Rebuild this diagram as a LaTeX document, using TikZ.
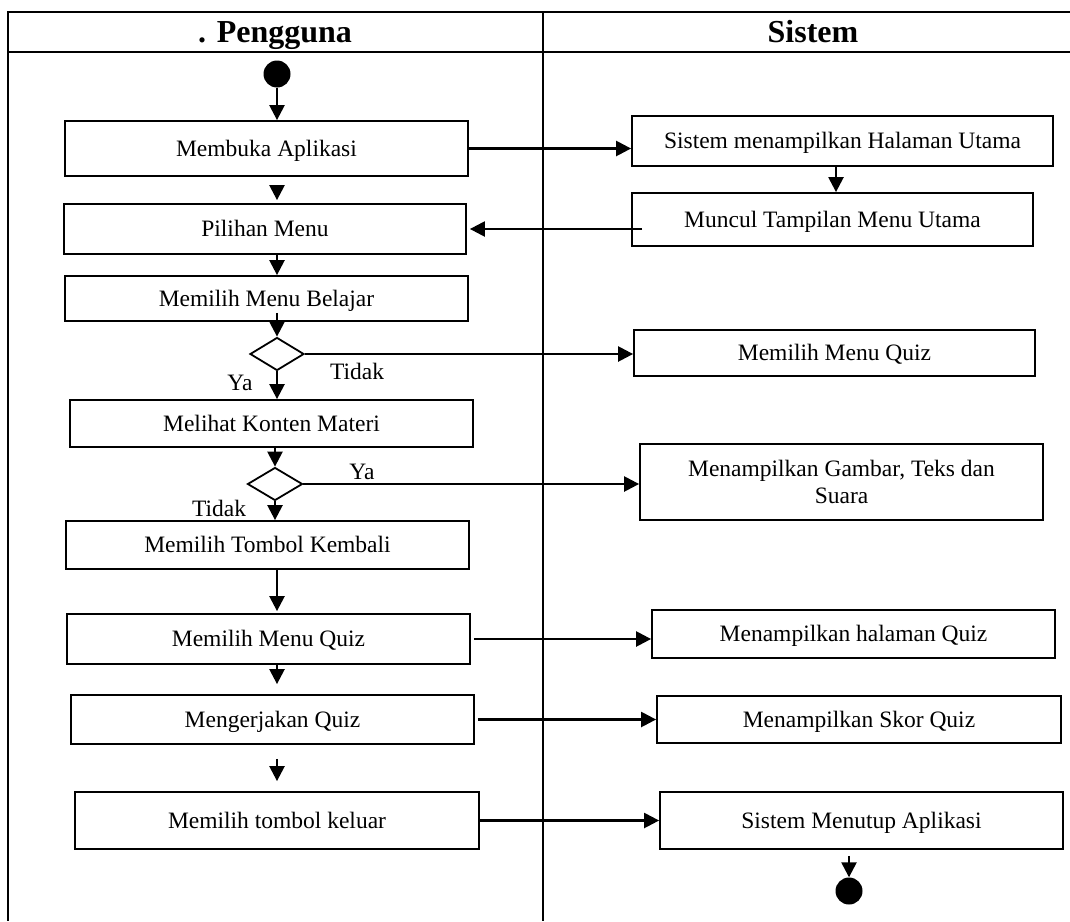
\documentclass[tikz,border=0pt]{standalone}
\usepackage{fontspec}
\setmainfont{Liberation Serif}
\usetikzlibrary{arrows.meta,shapes.geometric}
\begin{document}
\begin{tikzpicture}[x=1pt,y=-1pt,
  txt/.style={font=\fontsize{23.5pt}{27pt}\selectfont},
  act/.style={draw, line width=1.8pt, inner sep=0pt, align=center, txt, text height=18pt, text depth=2.5pt},
  act2/.style={draw, line width=1.8pt, inner sep=0pt, align=center, txt},
  dec/.style={draw, diamond, line width=1.8pt, inner sep=0pt},
  flow/.style={line width=2.4pt, -{Triangle[length=15pt,width=15pt]}},
  lane/.style={line width=2.6pt},
  lbl/.style={inner sep=0pt, txt},
  head/.style={inner sep=0pt, anchor=base, font=\fontsize{32pt}{36pt}\selectfont\bfseries},
  dot/.style={circle, fill=black, inner sep=0pt, minimum size=27pt}
]
\useasboundingbox (0,0) rectangle (1070,921);

% swimlane frame
\draw[lane] (1070,12) -- (8,12) -- (8,921);
\draw[lane] (8,52) -- (1070,52);
\draw[lane] (543,12) -- (543,921);
\node[head] (hUser) at (275,42) {. Pengguna};
\node[head] (hSys) at (813,42) {Sistem};

% arrow columns
\coordinate (ax) at (277,0);
\coordinate (bx) at (836,0);
\coordinate (cx) at (849,0);

% user lane
\node[dot] (start) at (277,74) {};
\node[act, minimum width=403pt, minimum height=55pt] (l1) at (266.5,148.5) {Membuka Aplikasi};
\node[act, minimum width=402pt, minimum height=50pt] (l2) at (265,229) {Pilihan Menu};
\node[act, minimum width=403pt, minimum height=45pt] (l3) at (266.5,298.5) {Memilih Menu Belajar};
\node[dec, minimum width=54pt, minimum height=33pt] (d1) at (277,354) {};
\node[act, minimum width=403pt, minimum height=47pt] (l4) at (271.5,423.5) {Melihat Konten Materi};
\node[dec, minimum width=55pt, minimum height=33pt] (d2) at (275,484) {};
\node[act, minimum width=403pt, minimum height=48pt] (l5) at (267.5,545) {Memilih Tombol Kembali};
\node[act, minimum width=403pt, minimum height=50pt] (l6) at (268.5,639) {Memilih Menu Quiz};
\node[act, minimum width=403pt, minimum height=49pt] (l7) at (272.5,719.5) {Mengerjakan Quiz};
\node[act, minimum width=404pt, minimum height=57pt] (l8) at (277,820.5) {Memilih tombol keluar};

% system lane
\node[act, minimum width=421pt, minimum height=50pt] (r1) at (842.5,141) {Sistem menampilkan Halaman Utama};
\node[act, minimum width=401pt, minimum height=53pt] (r2) at (832.5,219.5) {Muncul Tampilan Menu Utama};
\node[act, minimum width=401pt, minimum height=46pt] (r3) at (834.5,353) {Memilih Menu Quiz};
\node[act2, minimum width=403pt, minimum height=76pt] (r4) at (841.5,482) {Menampilkan Gambar, Teks dan\\Suara};
\node[act, minimum width=403pt, minimum height=48pt] (r5) at (853.5,634) {Menampilkan halaman Quiz};
\node[act, minimum width=404pt, minimum height=47pt] (r6) at (859,719.5) {Menampilkan Skor Quiz};
\node[act, minimum width=403pt, minimum height=57pt] (r7) at (861.5,820.5) {Sistem Menutup Aplikasi};
\node[dot] (stop) at (849,891) {};

% guard labels
\node[lbl] (t1) at (357,371) {Tidak};
\node[lbl] (y1) at (240,383) {Ya};
\node[lbl] (y2) at (362,472) {Ya};
\node[lbl] (t2) at (219,508) {Tidak};

% user flow
\draw[flow] (start) -- (start |- l1.north);
\draw[flow, shorten <=14pt, shorten >=3pt] (l1.south -| ax) -- (l2.north -| ax);
\draw[flow] (l2.south -| ax) -- (l3.north -| ax);
\draw[flow, shorten <=-9pt] (l3.south -| ax) -- (d1.north);
\draw[flow] (d1.south) -- (l4.north -| d1.south);
\draw[flow] (l4.south -| d2.north) -- (d2.north);
\draw[flow] (d2.south) -- (l5.north -| d2.south);
\draw[flow, shorten >=2pt] (l5.south -| ax) -- (l6.north -| ax);
\draw[flow, shorten >=10pt] (l6.south -| ax) -- (l7.north -| ax);
\draw[flow, shorten <=14pt, shorten >=10pt] (l7.south -| ax) -- (l8.north -| ax);

% cross-lane flow
\draw[flow] (l1.east) -- (l1.east -| r1.west);
\draw[flow, shorten <=-11pt, shorten >=3pt] (r2.west |- l2.east) -- (l2.east);
\draw[flow] (d1.east) -- (d1.east -| r3.west);
\draw[flow] (d2.east) -- (d2.east -| r4.west);
\draw[flow, shorten <=3pt] (l6.east) -- (l6.east -| r5.west);
\draw[flow, shorten <=3pt] (l7.east) -- (l7.east -| r6.west);
\draw[flow] (l8.east) -- (l8.east -| r7.west);

% system flow
\draw[flow] (r1.south -| bx) -- (r2.north -| bx);
\draw[flow, shorten <=6pt] (r7.south -| cx) -- (stop);
\end{tikzpicture}
\end{document}
